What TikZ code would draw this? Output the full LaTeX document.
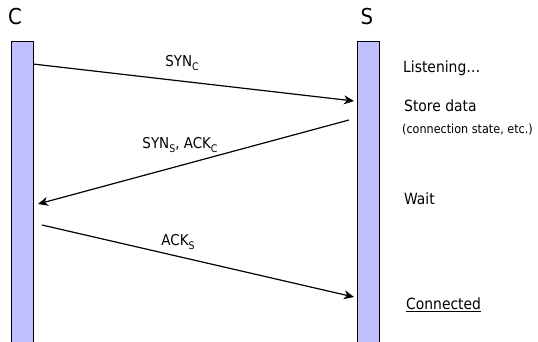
\documentclass[tikz,border=0pt]{standalone}
\usepackage{fontspec}
\setmainfont{DejaVu Sans Condensed}
\usetikzlibrary{arrows.meta}
% lowered subscript for the segment labels
\newcommand{\segsub}[1]{\raisebox{-0.4ex}{\fontsize{10.5}{12}\selectfont #1}}
\begin{document}
\begin{tikzpicture}[x=1bp,y=-1bp,
  lifeline/.style={draw=black,line width=1.3bp,fill=lifefill,minimum width=22bp,minimum height=310bp,inner sep=0pt,anchor=north west},
  msg/.style={line width=1.2bp,-{Stealth[length=10bp,width=9bp,inset=3bp]}},
  lbl/.style={font=\fontsize{15}{17}\selectfont,inner sep=0pt},
  note/.style={font=\fontsize{15.5}{18}\selectfont,anchor=west,inner sep=0pt},
  head/.style={font=\fontsize{22}{24}\selectfont,inner sep=0pt}]
\definecolor{lifefill}{RGB}{192,192,255}
\useasboundingbox (0,0) rectangle (538,341);
% lifelines
\node[lifeline] (C) at (11,41) {};
\node[lifeline] (S) at (357,41) {};
\node[head] (Clbl) at (15,17) {C};
\node[head] (Slbl) at (367,17) {S};
% message end points
\coordinate (c1) at (33,64);
\coordinate (s1) at (354,101);
\coordinate (s2) at (349,120);
\coordinate (c2) at (38,204);
\coordinate (c3) at (42,225);
\coordinate (s3) at (354,297);
% messages
\draw[msg] (c1) -- (s1);
\draw[msg] (s2) -- (c2);
\draw[msg] (c3) -- (s3);
\node[lbl] (m1) at (182,63) {SYN\segsub{C}};
\node[lbl] (m2) at (180,145) {SYN\segsub{S}, ACK\segsub{C}};
\node[lbl] (m3) at (178,242) {ACK\segsub{S}};
% server state notes
\node[note] (n1) at (403,68) {Listening…};
\node[note] (n2) at (404,106) {Store data};
\node[note,font=\fontsize{12.5}{14}\selectfont] (n3) at (402,130) {(connection state, etc.)};
\node[note] (n4) at (404,199) {Wait};
\node[note] (n5) at (406,305) {\underline{Connected}};
\end{tikzpicture}
\end{document}
